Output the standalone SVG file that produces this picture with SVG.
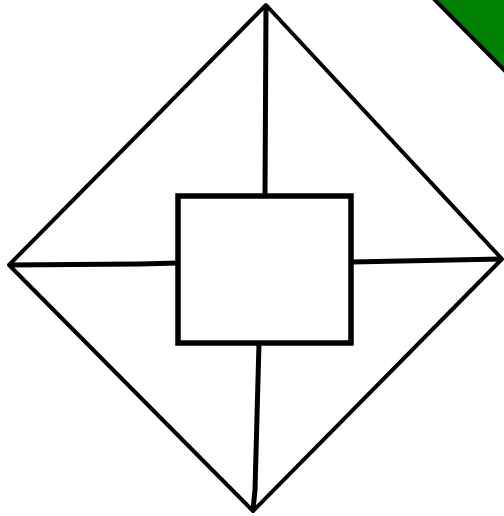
<svg xmlns="http://www.w3.org/2000/svg" width="504" height="516" viewBox="0 0 504 516">
<style>
.edge{stroke:#000;stroke-width:4;fill:none;stroke-linecap:round;stroke-linejoin:round}
.conn{stroke:#000;stroke-width:5;fill:none}
.box{stroke:#000;stroke-width:5.5;fill:#fff}
</style>
<rect width="504" height="516" fill="#fff"/>
<g id="corner">
<polygon points="435,0 504,0 504,70" fill="#008000"/>
<line x1="433" y1="-2" x2="506" y2="72" stroke="#000" stroke-width="4"/>
</g>
<g id="diamond">
<polygon class="edge" points="266,5 502,259 253,511 9,265"/>
</g>
<g id="connectors">
<polyline class="conn" points="266,5 265,196"/>
<polyline class="conn" points="259,343 255,490 253,510"/>
<polyline class="conn" points="9,265 140,264 178,263"/>
<polyline class="conn" points="351,262 502,259"/>
</g>
<g id="center">
<rect class="box" x="178" y="196" width="173" height="147"/>
</g>
</svg>
